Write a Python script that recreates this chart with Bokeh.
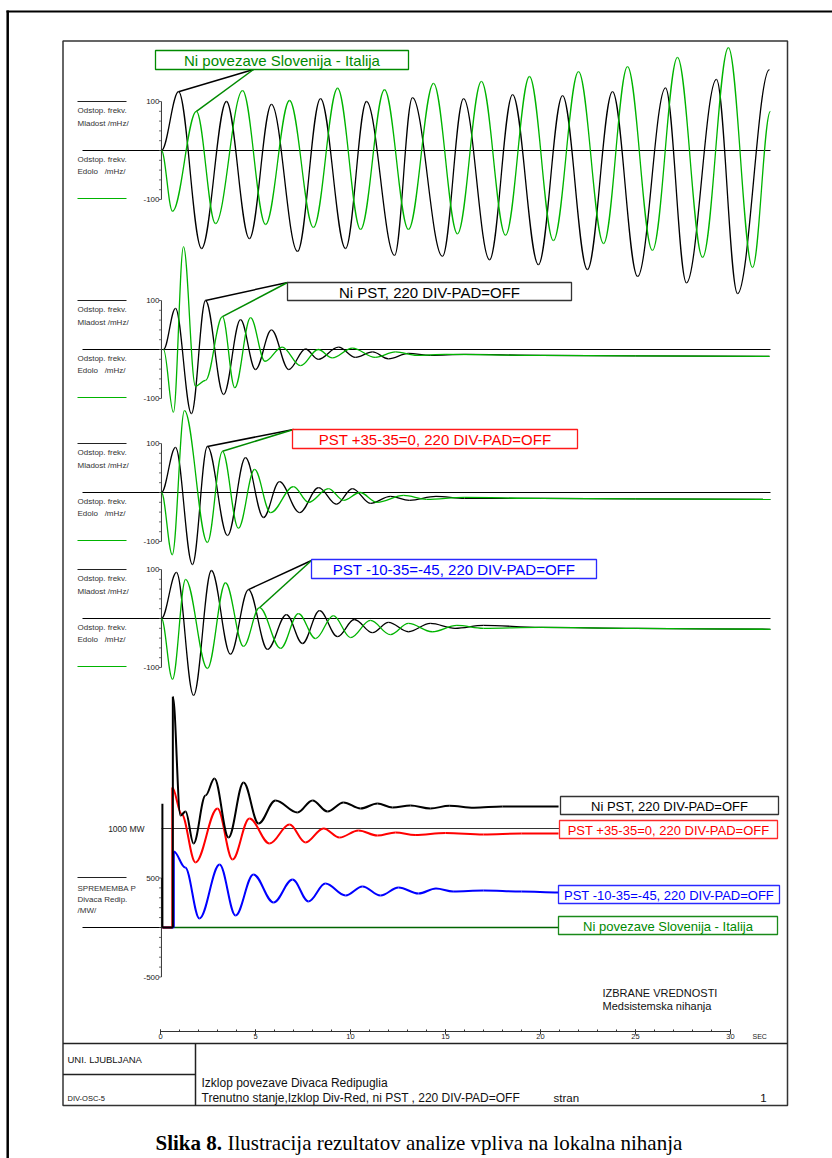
from bokeh.plotting import figure
from bokeh.models import Range1d
from bokeh.embed import file_html
from bokeh.resources import INLINE
from bokeh.core.properties import value

# ---------------- DATA (time in s, frequency deviation in mHz, power in MW) ----------------
TIME_TICKS = [0, 5, 10, 15, 20, 25, 30]
TIME_TICK_LABELS = ["0", "5", "10", "15", "20", "25", "30"]
TIME_MINOR = list(range(0, 31))

# Panel 1: Ni povezave Slovenija - Italija
P1_MLADOST_T = [0.05, 0.95, 2.16, 3.47, 4.68, 5.84, 7.21, 8.42, 9.74, 10.84, 12.32, 13.26, 14.84,
                15.95, 17.32, 18.53, 19.89, 21.16, 22.47, 23.79, 25.11, 26.58, 27.68, 29.26, 30.37, 32.05]
P1_MLADOST_V = [0, 120, -200, 100, -180, 94, -206, 106, -200, 100, -214, 108, -216,
                106, -223, 114, -233, 112, -243, 120, -257, 128, -270, 145, -292, 165]
P1_EDOLO_T = [0.05, 0.63, 1.89, 2.89, 4.32, 5.53, 6.79, 8.05, 9.32, 10.53, 11.79, 13.05, 14.37, 15.63,
              16.89, 18.16, 19.42, 20.68, 22.0, 23.32, 24.58, 25.89, 27.21, 28.53, 29.89, 31.16, 32.1]
P1_EDOLO_V = [0, -124, 80, -149, 122, -151, 102, -157, 127, -161, 124, -161, 137, -170,
              141, -173, 151, -184, 161, -190, 171, -204, 190, -218, 210, -239, 80]

# Panel 2: Ni PST, 220 DIV-PAD=OFF
P2_MLADOST_T = [0.16, 0.79, 1.63, 2.37, 3.32, 4.21, 5.0, 5.84, 6.75, 7.63, 8.3, 9.37, 10.26, 11.16,
                12.0, 13.05, 14.2, 16, 20, 25, 32.05]
P2_MLADOST_V = [0, 84, -131, 100, -92, 61, -41, 40, -41, 1, -20, 5, -16, -5,
                -19, -8, -12, -10, -12, -13, -14]
P2_EDOLO_T = [0.16, 0.68, 1.21, 1.84, 2.37, 3.26, 3.91, 4.74, 5.5, 6.4, 7.37, 8.3, 9.04, 10.1,
              11.3, 12.37, 13.5, 15, 20, 25, 32.05]
P2_EDOLO_V = [0, -128, 210, -75, -63, 67, -78, 65, -24, 5, -33, 0, -17, 3,
              -16, -5, -12, -10, -12, -13, -14]

# Panel 3: PST +35-35=0, 220 DIV-PAD=OFF
P3_MLADOST_T = [0.05, 0.79, 1.68, 2.47, 3.53, 4.47, 5.42, 6.26, 7.32, 8.32, 9.26, 10.1, 11.05,
                12.1, 13.1, 14.5, 16, 20, 25, 32.1]
P3_MLADOST_V = [0, 92, -147, 94, -88, 71, -51, 22, -41, 10, -24, 8, -22,
                -8, -16, -8, -12, -12, -13, -14]
P3_EDOLO_T = [0.05, 0.62, 1.26, 2.47, 3.26, 4.1, 4.95, 5.79, 7.0, 7.79, 8.84, 9.63, 10.5,
              11.4, 12.8, 14, 16, 20, 25, 32.1]
P3_EDOLO_V = [0, -127, 167, -102, 84, -73, 47, -41, 12, -20, 8, -16, 0,
              -20, -6, -14, -10, -12, -13, -14]

# Panel 4: PST -10-35=-45, 220 DIV-PAD=OFF
P4_MLADOST_T = [0.05, 0.84, 1.74, 2.68, 3.68, 4.63, 5.63, 6.63, 7.47, 8.37, 9.32, 10.2, 11.16,
                12.0, 13.05, 14.2, 15.5, 17, 20, 25, 32.1]
P4_MLADOST_V = [0, 94, -157, 98, -73, 59, -63, 8, -51, 16, -37, -2, -29,
                -8, -27, -10, -20, -14, -18, -20, -22]
P4_EDOLO_T = [0.05, 0.63, 1.32, 2.47, 3.42, 4.37, 5.21, 6.32, 7.26, 8.16, 9.1, 10.0, 11.05,
              12.1, 13.05, 14.3, 15.6, 17, 20, 25, 32.1]
P4_EDOLO_V = [0, -124, 80, -102, 73, -57, 22, -61, 10, -41, 6, -39, -4,
              -33, -10, -27, -14, -20, -18, -20, -22]

# Panel 5: SPREMEMBA P Divaca Redip. /MW/
P5_NIPST_T = [0.1, 0.1, 0.65, 0.65, 1.05, 1.32, 1.74, 2.37, 2.84, 3.58, 4.37, 5.16, 6.05, 7.21,
              8.0, 8.79, 9.63, 10.53, 11.42, 12.21, 13.16, 14.2, 15.2, 16.5, 18, 20.95]
P5_NIPST_V = [1250, 0, 0, 2330, 1131, 1172, 848, 1333, 1505, 909, 1465, 1050, 1283, 1162,
              1283, 1172, 1263, 1202, 1253, 1212, 1232, 1202, 1230, 1210, 1222, 1222]
P5_PST0_T = [0.1, 0.62, 0.62, 1.1, 1.84, 3.0, 3.79, 4.68, 5.74, 6.79, 7.63, 8.58, 9.42, 10.42,
             11.42, 12.37, 13.4, 15, 17, 19, 20.95]
P5_PST0_V = [0, 0, 1414, 1150, 657, 1202, 687, 1101, 848, 1040, 859, 1000, 909, 980,
             929, 960, 935, 955, 940, 950, 949]
P5_PST45_T = [0.1, 0.7, 0.7, 1.3, 2.05, 3.11, 3.95, 4.89, 5.95, 6.95, 7.79, 8.68, 9.74, 10.63,
              11.58, 12.53, 13.58, 14.5, 15.4, 17, 19, 20.95]
P5_PST45_V = [0, 0, 768, 606, 91, 636, 121, 535, 253, 485, 263, 444, 323, 414,
              323, 404, 343, 394, 364, 374, 364, 354]
P5_NOLINK_T = [0.7, 20.95]
P5_NOLINK_V = [0, 0]
P5_REF_MW = 1000

FREQ_TICKS = list(range(-100, 101, 20))
FREQ_TICK_LABELS = {100: "100", -100: "-100"}
MW_TICKS = list(range(-500, 501, 100))
MW_TICK_LABELS = {500: "500", -500: "-500"}

TITLES = ["Ni povezave Slovenija - Italija", "Ni PST, 220 DIV-PAD=OFF",
          "PST +35-35=0, 220 DIV-PAD=OFF", "PST -10-35=-45, 220 DIV-PAD=OFF"]

# ---------------- LAYOUT (picture pixels) ----------------
W, H = 832, 1158
T0_PX, PX_PER_S = 160, 19.0
FS = 0.49            # px per mHz
MS = 0.099           # px per MW
Z = [150, 349, 492, 618, 927]   # zero lines (px)

GREEN = "#00b400"
DGREEN = "#008a00"
FONT = value("Liberation Sans")
SERIF = value("Liberation Serif")

p = figure(width=W, height=H, output_backend="svg", toolbar_location=None,
           x_axis_location=None, y_axis_location=None,
           x_range=Range1d(0, W), y_range=Range1d(H, 0),
           min_border=0, outline_line_color=None)
p.grid.visible = False
p.background_fill_color = "white"
p.border_fill_color = "white"

p.extra_x_ranges = {"t": Range1d((0 - T0_PX) / PX_PER_S, (W - T0_PX) / PX_PER_S)}
names = ["p1", "p2", "p3", "p4", "p5"]
scales = [FS, FS, FS, FS, MS]
p.extra_y_ranges = {n: Range1d((z - H) / s, z / s) for n, z, s in zip(names, Z, scales)}


def tpx(x):
    return (x - T0_PX) / PX_PER_S


def curve(tt, vv, color, width, yname):
    x0, x1 = tt[:-1], tt[1:]
    y0, y1 = vv[:-1], vv[1:]
    cx0 = [a + 0.36 * (b - a) for a, b in zip(x0, x1)]
    cx1 = [b - 0.36 * (b - a) for a, b in zip(x0, x1)]
    p.bezier(x0=x0, y0=y0, x1=x1, y1=y1, cx0=cx0, cy0=y0, cx1=cx1, cy1=y1,
             line_color=color, line_width=width, x_range_name="t", y_range_name=yname)


def txt(x, y, s, size, color="#222", align="left", baseline="middle", font=FONT, style="normal"):
    p.text(x=[x], y=[y], text=[s], text_font=font, text_font_size=size, text_color=color,
           text_align=align, text_baseline=baseline, text_font_style=style)


# page border (left and top only visible) and inner frame
p.segment(x0=[7.2], y0=[10], x1=[7.2], y1=[H], line_color="black", line_width=2.5)
p.segment(x0=[6], y0=[11], x1=[W], y1=[11], line_color="black", line_width=2)
p.quad(left=[62.5], right=[787], top=[40.5], bottom=[1105], fill_color=None,
       line_color="#333", line_width=1.5)
# title block
p.segment(x0=[62.5, 195, 62.5], y0=[1043, 1043, 1074], x1=[787, 195, 195], y1=[1043, 1105, 1074],
          line_color="#222", line_width=1.5)
txt(67, 1059, "UNI. LJUBLJANA", "9.5px", "#111")
txt(67, 1097.5, "DIV-OSC-5", "7.5px", "#111")
txt(201, 1082, "Izklop povezave Divaca Redipuglia", "12px", "#111")
txt(201, 1097.5, "Trenutno stanje,Izklop Div-Red, ni PST , 220 DIV-PAD=OFF", "12px", "#111")
txt(553, 1097.5, "stran", "11.5px", "#111")
txt(763, 1097.5, "1", "11.5px", "#111", align="center")
txt(602, 992, "IZBRANE VREDNOSTI", "11px", "#111")
txt(602, 1005, "Medsistemska nihanja", "11px", "#111")

# time axis
AX_Y = 1031
p.segment(x0=[TIME_TICKS[0]], y0=[AX_Y], x1=[TIME_TICKS[-1]], y1=[AX_Y], line_color="#333",
          line_width=1.2, x_range_name="t")
p.segment(x0=TIME_MINOR, y0=[AX_Y - 2] * len(TIME_MINOR), x1=TIME_MINOR, y1=[AX_Y] * len(TIME_MINOR),
          line_color="#333", line_width=1, x_range_name="t")
p.segment(x0=TIME_TICKS, y0=[AX_Y - 2] * len(TIME_TICKS), x1=TIME_TICKS, y1=[AX_Y + 3] * len(TIME_TICKS),
          line_color="#333", line_width=1, x_range_name="t")
p.text(x=TIME_TICKS, y=[1036] * len(TIME_TICKS), text=TIME_TICK_LABELS, text_font=FONT,
       text_font_size="7.5px", text_color="#222", text_align="center", text_baseline="middle",
       x_range_name="t")
txt(752, 1036, "SEC", "7px", "#222")

# ---------------- frequency panels ----------------
panels = [
    (P1_MLADOST_T, P1_MLADOST_V, P1_EDOLO_T, P1_EDOLO_V),
    (P2_MLADOST_T, P2_MLADOST_V, P2_EDOLO_T, P2_EDOLO_V),
    (P3_MLADOST_T, P3_MLADOST_V, P3_EDOLO_T, P3_EDOLO_V),
    (P4_MLADOST_T, P4_MLADOST_V, P4_EDOLO_T, P4_EDOLO_V),
]
box_geom = [(155, 408, 50, 69), (287, 571, 282, 300), (292, 577, 429, 448), (311, 596, 559, 578)]
box_col = [DGREEN, "#333", "#ff1a1a", "#2a2aff"]
txt_col = [DGREEN, "black", "#ff0000", "#0000ff"]
anchors = [(253, 69), (287, 282), (293, 429), (311, 560)]
leader_idx = [(1, 2), (3, 5), (3, 4), (5, 6)]

for k, (bt, bv, gt, gv) in enumerate(panels):
    yn = names[k]
    z = Z[k]
    # zero line
    p.segment(x0=[tpx(82)], y0=[0], x1=[tpx(770)], y1=[0], line_color="black", line_width=1,
              x_range_name="t", y_range_name=yn)
    # y axis
    p.segment(x0=[0.05], y0=[FREQ_TICKS[0]], x1=[0.05], y1=[FREQ_TICKS[-1]], line_color="#333",
              line_width=1, x_range_name="t", y_range_name=yn)
    p.segment(x0=[tpx(158.5)] * len(FREQ_TICKS), y0=FREQ_TICKS, x1=[0.05] * len(FREQ_TICKS), y1=FREQ_TICKS,
              line_color="#444", line_width=0.8, x_range_name="t", y_range_name=yn)
    for tv, lab in FREQ_TICK_LABELS.items():
        p.text(x=[tpx(159)], y=[tv], text=[lab], text_font=FONT, text_font_size="8px",
               text_color="#222", text_align="right", text_baseline="middle",
               x_range_name="t", y_range_name=yn)
    # legend labels
    p.segment(x0=[77], y0=[z - 49], x1=[126], y1=[z - 49], line_color="#222", line_width=1.2)
    p.segment(x0=[77], y0=[z + 48], x1=[126], y1=[z + 48], line_color=GREEN, line_width=1.2)
    txt(77, z - 40, "Odstop. frekv.", "8px", "#333")
    txt(77, z - 27.5, "Mladost /mHz/", "8px", "#333")
    txt(77, z + 8.5, "Odstop. frekv.", "8px", "#333")
    txt(77, z + 21, "Edolo\u00a0\u00a0 /mHz/", "8px", "#333")
    # curves
    curve(bt, bv, "black", 1.3, yn)
    curve(gt, gv, GREEN, 1.3, yn)
    # leaders
    ax, ay = anchors[k]
    ib, ig = leader_idx[k]
    at, av = tpx(ax), (z - ay) / FS
    p.segment(x0=[at], y0=[av], x1=[bt[ib]], y1=[bv[ib]], line_color="black", line_width=1.5,
              x_range_name="t", y_range_name=yn)
    p.segment(x0=[at], y0=[av], x1=[gt[ig]], y1=[gv[ig]], line_color=DGREEN, line_width=1.5,
              x_range_name="t", y_range_name=yn)
    # label box
    l, r, t, b = box_geom[k]
    p.quad(left=[l], right=[r], top=[t], bottom=[b], fill_color="white", line_color=box_col[k],
           line_width=1.3)
    txt((l + r) / 2, (t + b) / 2 + 0.5, TITLES[k], "15px", txt_col[k], align="center")

# ---------------- power panel ----------------
yn = "p5"
p.segment(x0=[tpx(82)], y0=[0], x1=[tpx(558)], y1=[0], line_color="black", line_width=1,
          x_range_name="t", y_range_name=yn)
p.segment(x0=[0.05], y0=[P5_REF_MW], x1=[tpx(559)], y1=[P5_REF_MW], line_color="#333", line_width=1,
          x_range_name="t", y_range_name=yn)
p.segment(x0=[0.05], y0=[MW_TICKS[0]], x1=[0.05], y1=[MW_TICKS[-1]], line_color="#333", line_width=1,
          x_range_name="t", y_range_name=yn)
p.segment(x0=[tpx(158.5)] * len(MW_TICKS), y0=MW_TICKS, x1=[0.05] * len(MW_TICKS), y1=MW_TICKS,
          line_color="#444", line_width=0.8, x_range_name="t", y_range_name=yn)
for tv, lab in MW_TICK_LABELS.items():
    p.text(x=[tpx(159)], y=[tv], text=[lab], text_font=FONT, text_font_size="8px", text_color="#222",
           text_align="right", text_baseline="middle", x_range_name="t", y_range_name=yn)
p.text(x=[tpx(144)], y=[P5_REF_MW], text=["1000 MW"], text_font=FONT, text_font_size="8.5px",
       text_color="#222", text_align="right", text_baseline="middle", x_range_name="t", y_range_name=yn)
p.segment(x0=[77], y0=[877], x1=[126], y1=[877], line_color="#222", line_width=1.2)
txt(77, 887.5, "SPREMEMBA P", "8px", "#333")
txt(77, 898.5, "Divaca Redip.", "8px", "#333")
txt(77, 910, "/MW/", "8px", "#333")

curve(P5_NOLINK_T, P5_NOLINK_V, "#006400", 1.6, yn)
curve(P5_PST45_T, P5_PST45_V, "#0000ff", 2, yn)
curve(P5_PST0_T, P5_PST0_V, "#ff0000", 2, yn)
curve(P5_NIPST_T, P5_NIPST_V, "black", 2, yn)

bottom_boxes = [
    ((560, 778, 796, 814), "#333", "black", "Ni PST, 220 DIV-PAD=OFF"),
    ((559, 777, 820, 838), "#ff2a2a", "#ff0000", "PST +35-35=0, 220 DIV-PAD=OFF"),
    ((558, 779, 885, 903), "#2a2aff", "#0000ff", "PST -10-35=-45, 220 DIV-PAD=OFF"),
    ((558, 777, 916, 934), "#1a8a1a", "#008a00", "Ni povezave Slovenija - Italija"),
]
for (l, r, t, b), lc, tc, s in bottom_boxes:
    p.quad(left=[l], right=[r], top=[t], bottom=[b], fill_color="white", line_color=lc, line_width=1.3)
    txt((l + r) / 2, (t + b) / 2 + 0.5, s, "13px", tc, align="center")

# caption
txt(155, 1142, "Slika 8.", "21px", "black", baseline="alphabetic", font=SERIF, style="bold")
txt(227, 1142, "Ilustracija rezultatov analize vpliva na lokalna nihanja", "21px", "black",
    baseline="alphabetic", font=SERIF)

open("out.html", "w").write(file_html(p, INLINE))
